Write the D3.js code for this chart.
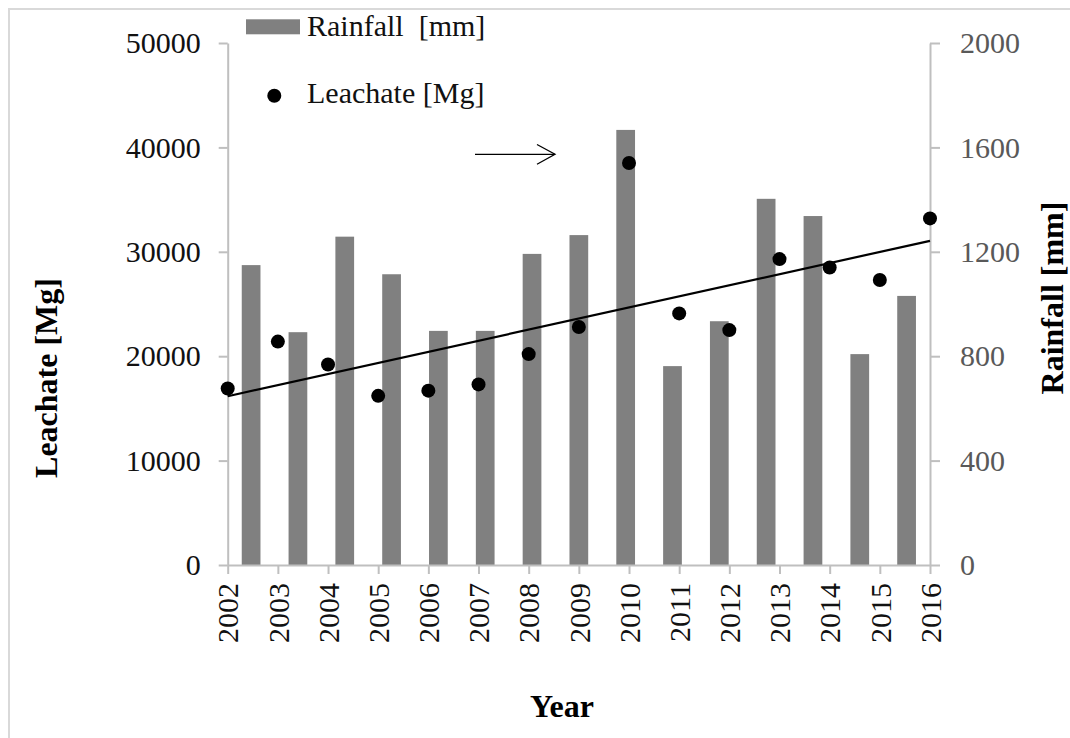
<!DOCTYPE html>
<html>
<head>
<meta charset="utf-8">
<script src="https://cdn.jsdelivr.net/npm/d3@7/dist/d3.min.js"></script>
<style>
  html, body { margin: 0; padding: 0; background: #fff; }
  svg text { font-family: "Liberation Serif", "Times New Roman", serif; }
</style>
</head>
<body>
<svg id="chart" width="1070" height="738"></svg>
<script>
// Annual data
const years = [2002, 2003, 2004, 2005, 2006, 2007, 2008, 2009, 2010, 2011, 2012, 2013, 2014, 2015, 2016];
const rainfall = [1149, 892, 1258, 1114, 897, 897, 1192, 1264, 1667, 762, 934, 1403, 1337, 808, 1031];
const leachate = [16900, 21400, 19200, 16200, 16700, 17300, 20200, 22800, 38500, 24100, 22500, 29300, 28500, 27300, 33200];
const leftTicks = [0, 10000, 20000, 30000, 40000, 50000];
const rightTicks = [0, 400, 800, 1200, 1600, 2000];

const svg = d3.select("#chart");
const x0 = 227.7, x1 = 930, yTop = 43, yBot = 565;

// frame of the chart area
svg.append("path")
  .attr("d", `M9,738 L9,9 L1070,9`)
  .attr("fill", "none").attr("stroke", "#d9d9d9").attr("stroke-width", 2);

const xPoint = d3.scalePoint().domain(years).range([x0, x1]).padding(0);
const xBand = d3.scaleBand().domain(years).range([x0, x1]).paddingInner(0.6).paddingOuter(0.3);
const yLeft = d3.scaleLinear().domain([0, 50000]).range([yBot, yTop]);
const yRight = d3.scaleLinear().domain([0, 2000]).range([yBot, yTop]);

// rainfall bars
svg.append("g").selectAll("rect").data(years).join("rect")
  .attr("x", d => xBand(d))
  .attr("width", xBand.bandwidth())
  .attr("y", (d, i) => yRight(rainfall[i]))
  .attr("height", (d, i) => yBot - yRight(rainfall[i]))
  .attr("fill", "#808080");

function styleAxis(g, color) {
  g.select(".domain").attr("stroke", "#bfbfbf").attr("stroke-width", 2);
  g.selectAll(".tick line").attr("stroke", "#bfbfbf").attr("stroke-width", 2);
  g.selectAll(".tick text").attr("fill", color).attr("font-size", 30)
    .attr("font-family", "'Liberation Serif', 'Times New Roman', serif");
}

// left axis: leachate
const gl = svg.append("g").attr("transform", `translate(${x0},0)`)
  .call(d3.axisLeft(yLeft).tickValues(leftTicks).tickFormat(d3.format("d")).tickSize(9).tickSizeOuter(0).tickPadding(18));
styleAxis(gl, "#111");

// right axis: rainfall
const gr = svg.append("g").attr("transform", `translate(${x1},0)`)
  .call(d3.axisRight(yRight).tickValues(rightTicks).tickFormat(d3.format("d")).tickSize(10).tickSizeOuter(0).tickPadding(20));
styleAxis(gr, "#595959");

// bottom axis: years
const gb = svg.append("g").attr("transform", `translate(0,${yBot})`)
  .call(d3.axisBottom(xPoint).tickSize(9).tickSizeOuter(0).tickPadding(0));
styleAxis(gb, "#111");
gb.selectAll(".tick text")
  .attr("transform", "rotate(-90)")
  .attr("text-anchor", "end")
  .attr("x", -18).attr("y", 0).attr("dy", "0.34em");

// linear trend of leachate
const n = years.length;
const mx = d3.mean(years), my = d3.mean(leachate);
const slope = d3.sum(years, (d, i) => (d - mx) * (leachate[i] - my)) / d3.sum(years, d => (d - mx) ** 2);
const fit = yr => my + slope * (yr - mx);
svg.append("line")
  .attr("x1", xPoint(years[0])).attr("y1", yLeft(fit(years[0])))
  .attr("x2", xPoint(years[n - 1])).attr("y2", yLeft(fit(years[n - 1])))
  .attr("stroke", "#000").attr("stroke-width", 2.2);

// leachate points
svg.append("g").selectAll("circle").data(years).join("circle")
  .attr("cx", d => xPoint(d))
  .attr("cy", (d, i) => yLeft(leachate[i]))
  .attr("r", 7)
  .attr("fill", "#000");

// arrow pointing toward the rainfall axis
svg.append("path").attr("d", "M475,154.3 L555,154.3").attr("stroke", "#000").attr("stroke-width", 1.3).attr("fill", "none");
svg.append("path").attr("d", "M537,144.5 L555,154.3 L537,164.3").attr("stroke", "#000").attr("stroke-width", 1.3).attr("fill", "none");

// legend
svg.append("rect").attr("x", 246).attr("y", 19.3).attr("width", 54).attr("height", 15).attr("fill", "#808080");
svg.append("text").attr("x", 307).attr("y", 36).attr("font-size", 30).attr("fill", "#111")
  .attr("xml:space", "preserve").text("Rainfall  [mm]");
svg.append("circle").attr("cx", 274.3).attr("cy", 95.7).attr("r", 7).attr("fill", "#000");
svg.append("text").attr("x", 307).attr("y", 103.3).attr("font-size", 30).attr("fill", "#111").text("Leachate [Mg]");

// axis titles
svg.append("text").attr("transform", "translate(57,378) rotate(-90)")
  .attr("text-anchor", "middle").attr("font-size", 32).attr("font-weight", "bold").attr("fill", "#000")
  .text("Leachate [Mg]");
svg.append("text").attr("transform", "translate(1063,298) rotate(-90)")
  .attr("text-anchor", "middle").attr("font-size", 32).attr("font-weight", "bold").attr("fill", "#000")
  .text("Rainfall [mm]");
svg.append("text").attr("x", 562).attr("y", 717)
  .attr("text-anchor", "middle").attr("font-size", 32).attr("font-weight", "bold").attr("fill", "#000")
  .text("Year");
</script>
</body>
</html>
